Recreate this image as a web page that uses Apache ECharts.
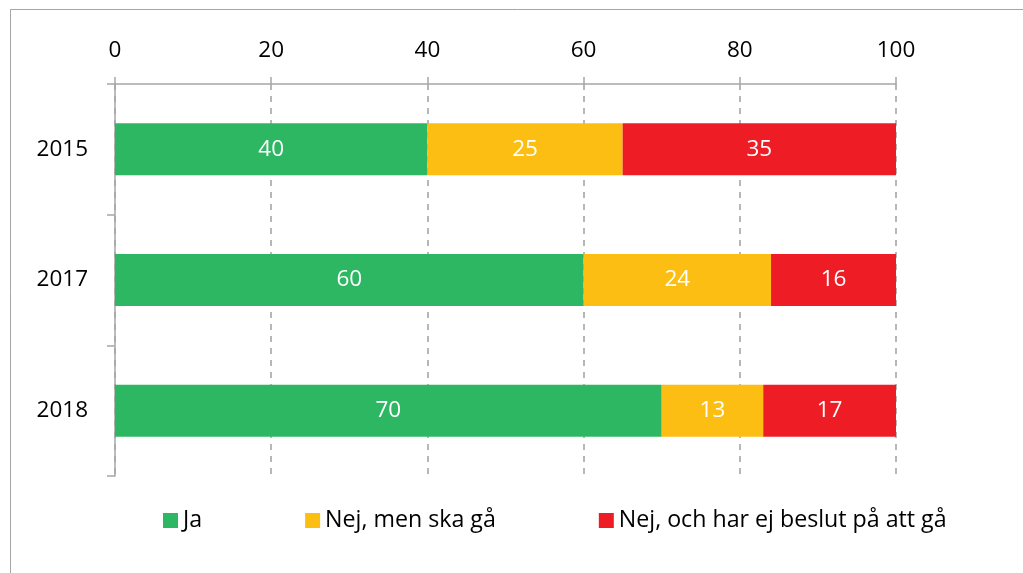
<!DOCTYPE html>
<html><head><meta charset="utf-8">
<script src="https://cdn.jsdelivr.net/npm/echarts@6/dist/echarts.min.js"></script>
<style>html,body{margin:0;padding:0;background:#fff}#c{width:1023px;height:573px}</style>
</head><body><div id="c"></div>
<script>
const categories = ['2015', '2017', '2018'];
const seriesNames = ['Ja', 'Nej, men ska gå', 'Nej, och har ej beslut på att gå'];
const ja = [40, 60, 70];
const nejMen = [25, 24, 13];
const nejOch = [35, 16, 17];
const colors = ['#2eb762', '#fcbe12', '#ee1c25'];
const FONT = 'Open Sans';
const FS = 22.5;

const chart = echarts.init(document.getElementById('c'));
const mk = (name, data, color) => ({
  name, type: 'bar', stack: 'total', data, barWidth: 52,
  itemStyle: { color },
  label: { show: true, position: 'inside', color: '#fff', fontSize: FS, fontFamily: FONT }
});
chart.setOption({
  animation: false,
  textStyle: { fontFamily: FONT },
  graphic: [{ type: 'rect', shape: { x: 10.5, y: 9.5, width: 1200, height: 800 }, style: { fill: 'none', stroke: '#a6a6a6', lineWidth: 1 }, silent: true }],
  grid: { left: 115, right: 127, top: 84, bottom: 97, containLabel: false },
  legend: {
    top: 504, left: 158, itemWidth: 15, itemHeight: 15, itemGap: 103, icon: 'rect',
    textStyle: { fontSize: 23.2, color: '#000', fontFamily: FONT },
    data: seriesNames
  },
  xAxis: {
    type: 'value', position: 'top', min: 0, max: 100, interval: 20,
    axisLine: { show: true, lineStyle: { color: '#a6a6a6', width: 1.5 } },
    axisTick: { show: true, length: 7, lineStyle: { color: '#a6a6a6', width: 1.5 } },
    axisLabel: { fontSize: FS, color: '#000', margin: 22, fontFamily: FONT },
    splitLine: { show: true, lineStyle: { color: '#a0a0a0', type: [6, 6], width: 1.5 } }
  },
  yAxis: {
    type: 'category', data: categories, inverse: true,
    axisLine: { show: true, lineStyle: { color: '#a6a6a6', width: 1.5 } },
    axisTick: { show: true, length: 8, lineStyle: { color: '#a6a6a6', width: 1.5 } },
    axisLabel: { fontSize: FS, color: '#000', margin: 27, fontFamily: FONT }
  },
  series: [mk(seriesNames[0], ja, colors[0]), mk(seriesNames[1], nejMen, colors[1]), mk(seriesNames[2], nejOch, colors[2])]
});
</script></body></html>
